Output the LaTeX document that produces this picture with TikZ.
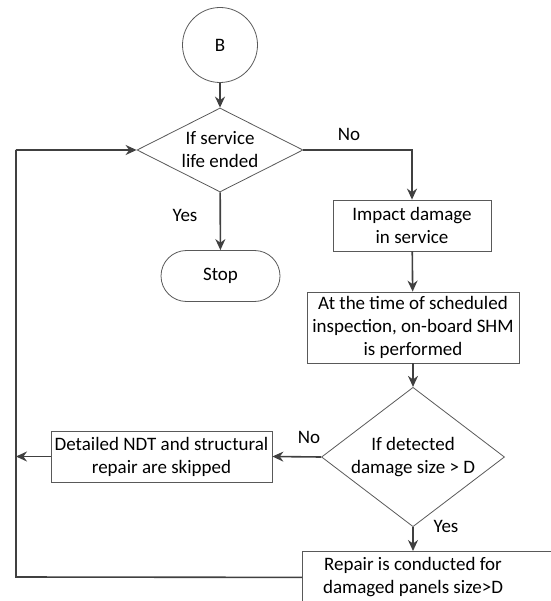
\documentclass[tikz,border=0pt]{standalone}
\usepackage{fontspec}
\setmainfont{Carlito}
\usetikzlibrary{shapes.geometric,shapes.misc,arrows.meta}
\definecolor{linegray}{HTML}{404040}
\definecolor{boxgray}{HTML}{595959}
\tikzset{font=\fontsize{19}{23}\selectfont}

\begin{document}
\begin{tikzpicture}
	\useasboundingbox (0,0) rectangle (550pt,-601pt);
	\begin{scope}[x=1pt, y=-1pt]
		\tikzstyle{every node}=[align=center, inner sep=1pt]
		\tikzstyle{shapeline}=[draw=boxgray, line width=0.8pt]
		\tikzstyle{flow}=[draw=linegray, line width=1.6pt, -{Stealth[length=11pt, width=10pt]}]
		\tikzstyle{plain}=[draw=linegray, line width=1.6pt]
		\tikzstyle{procbox}=[shapeline, rectangle]
		\tikzstyle{decision}=[shapeline, diamond, inner sep=0pt]

		\node [shapeline, circle, minimum size=75pt] (b) at (220, 45) {B};
		\node [decision, aspect=2, minimum width=166pt, minimum height=84pt] (life) at (220, 150) {If service\\life ended};
		\node [shapeline, rounded rectangle, minimum width=121pt, minimum height=51pt] (stop) at (220.5, 276) {Stop};

		\node [procbox, minimum width=158pt, minimum height=51pt] (impact) at (412, 225.5) {Impact damage\\in service};
		\node [procbox, minimum width=212pt, minimum height=71pt] (shm) at (413, 327.5) {At the time of scheduled\\inspection, on-board SHM\\is performed};
		\node [decision, inner sep=-6pt, minimum width=183pt, minimum height=110pt] (detect) at (413, 457) {If detected\\damage size > D};
		\node [procbox, minimum width=221pt, minimum height=51pt] (skip) at (161.5, 456.5) {Detailed NDT and structural\\repair are skipped};

		\node [procbox, anchor=north west, minimum width=270pt, minimum height=52pt] (repairbox) at (302, 551) {};
		\node (repair) at (413, 577) {Repair is conducted for\\damaged panels size>D};

		\coordinate (loopdown) at (16, 577);
		\coordinate (loopup) at (16, 150);

		\node (no1) at (349, 134) {No};
		\node (yes1) at (185, 215) {Yes};
		\node (no2) at (309, 437) {No};
		\node (yes2) at (446, 526) {Yes};

		\draw [flow] (b) to (life);
		\draw [flow] (life) to (stop);
		\draw [flow] (life.east) -| (impact.north);
		\draw [flow] (impact) to (shm);
		\draw [flow] (shm) to (detect);
		\draw [flow] (detect.west) to (skip.east);
		\draw [flow] (detect.south) to (detect.south |- repairbox.north);
		\draw [flow] (skip.west) to (skip.west -| loopup);
		\draw [plain] (repairbox.west) -- (loopdown) -- (loopup);
		\draw [flow] (loopup) to (life.west);
	\end{scope}
\end{tikzpicture}
\end{document}
